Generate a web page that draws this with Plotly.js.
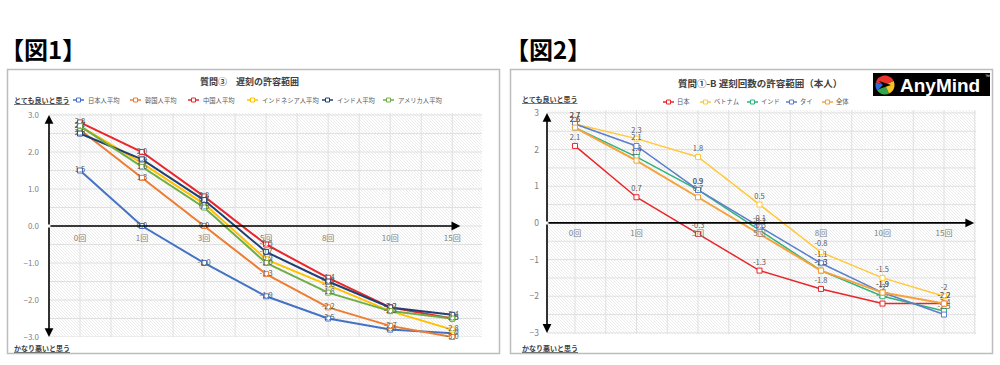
<!DOCTYPE html>
<html><head><meta charset="utf-8">
<script src="https://cdn.plot.ly/plotly-3.0.1.min.js"></script>
<style>html,body{margin:0;padding:0;background:#fff;}#chart{width:1000px;height:365px;}</style>
</head><body><div id="chart"></div>
<script>
// ---------- data ----------
const categories = ['0回','1回','3回','5回','8回','10回','15回'];
const headings = ['【図1】','【図2】'];
const topLabel = 'とても良いと思う';
const bottomLabel = 'かなり悪いと思う';

const fig1Title = '質問③　遅刻の許容範囲';
const fig1Names = ['日本人平均','韓国人平均','中国人平均','インドネシア人平均','インド人平均','アメリカ人平均'];
const fig1Japan     = [1.5, 0.0, -1.0, -1.9, -2.5, -2.8, -2.9];
const fig1Korea     = [2.6, 1.3,  0.0, -1.3, -2.2, -2.7, -3.0];
const fig1China     = [2.8, 2.0,  0.8, -0.5, -1.4, -2.2, -2.5];
const fig1Indonesia = [2.7, 1.7,  0.6, -0.9, -1.6, -2.3, -2.8];
const fig1India     = [2.5, 1.8,  0.7, -0.7, -1.5, -2.2, -2.4];
const fig1USA       = [2.7, 1.6,  0.5, -1.0, -1.8, -2.3, -2.5];
const fig1Ticks = [-3, -2, -1, 0, 1, 2, 3];

const fig2Title = '質問①-B 遅刻回数の許容範囲（本人）';
const fig2Names = ['日本','ベトナム','インド','タイ','全体'];
const fig2Japan   = [2.1, 0.7, -0.3, -1.3, -1.8, -2.2, -2.2];
const fig2Vietnam = [2.7, 2.3,  1.8,  0.5, -0.8, -1.5, -2.0];
const fig2India   = [2.6, 1.8,  0.9, -0.2, -1.3, -2.0, -2.4];
const fig2Thai    = [2.7, 2.1,  0.9, -0.1, -1.1, -1.9, -2.5];
const fig2All     = [2.6, 1.7,  0.7, -0.3, -1.3, -1.9, -2.2];
const fig2Ticks = [-3, -2, -1, 0, 1, 2, 3];

const logoText = 'AnyMind';

// ---------- styles / geometry ----------
const fig1Series = [fig1Japan, fig1Korea, fig1China, fig1Indonesia, fig1India, fig1USA];
const fig2Series = [fig2Japan, fig2Vietnam, fig2India, fig2Thai, fig2All];
const fig1Colors = ['#4472C4','#ED7D31','#E8262B','#FFC000','#203F73','#70AD47'];
const fig2Colors = ['#E8262B','#FFC93C','#2EB37C','#5B7FCB','#F4A23C'];

const W = 1000, H = 365;
const fx = p => p / W;
const fy = p => 1 - p / H;

const g1 = {left:49, right:482, top:113, bottom:337, xr:[-0.5, 6.48], yr:[-3, 3.054], arrowX:6.13,
            box:[7.5, 69.5, 499.5, 353.5], legendX:[73,130,188,247,322,383], legendY:100, textOff:13,
            titleX:249, titleY:82, capX:12, capTopY:100, capBotY:348};
const g2 = {left:547, right:976, top:110, bottom:334, xr:[-0.455, 6.52], yr:[-3.03, 3.08], arrowX:6.49,
            box:[510.5, 69.5, 992.5, 353.5], legendX:[663,700,747,786,822], legendY:102, textOff:12,
            titleX:760, titleY:83, capX:520, capTopY:99, capBotY:348};

function yDomain(g){ return [fy(g.bottom), fy(g.top)]; }
function zeroPos(g){ const d = yDomain(g); return d[0] + (0 - g.yr[0]) / (g.yr[1] - g.yr[0]) * (d[1] - d[0]); }

const traces = [];
fig1Series.forEach((vals, i) => traces.push({
  type:'scatter', mode:'lines+markers+text', x:categories, y:vals, xaxis:'x', yaxis:'y',
  name:fig1Names[i], line:{color:fig1Colors[i], width:2},
  marker:{symbol:'square', size:5, color:'#ffffff', line:{color:fig1Colors[i], width:1}},
  text:vals.map(v => v.toFixed(1)), textposition:'middle center',
  textfont:{size:7.5, color:'#595959'}, cliponaxis:false, hoverinfo:'skip', showlegend:false
}));
fig2Series.forEach((vals, i) => traces.push({
  type:'scatter', mode:'lines+markers+text', x:categories, y:vals, xaxis:'x2', yaxis:'y2',
  name:fig2Names[i], line:{color:fig2Colors[i], width:(i === 4 ? 2 : 1.5)},
  marker:{symbol:'square', size:5, color:'#ffffff', line:{color:fig2Colors[i], width:1}},
  text:vals.map(v => String(v)), textposition:'top center',
  textfont:{size:7.5, color:'#595959'}, cliponaxis:false, hoverinfo:'skip', showlegend:false
}));

const shapes = [];
const annotations = [];

function hatch(g, sp){
  const w = g.right - g.left, h = g.bottom - g.top;
  let d = '';
  for (let c = -h; c <= w; c += sp){
    const x0 = Math.max(c, 0), y0 = Math.max(-c, 0);
    const x1 = Math.min(w, h + c), y1 = Math.min(h, w - c);
    d += 'M' + fx(g.left + x0) + ',' + fy(g.top + y0) + 'L' + fx(g.left + x1) + ',' + fy(g.top + y1);
  }
  shapes.push({type:'path', xref:'paper', yref:'paper', path:d, line:{color:'#ececec', width:1}, layer:'below'});
}
function grid(g, xa, ya){
  for (let k = 0; k / 2 <= g.xr[1]; k++){
    const xv = k / 2;
    shapes.push({type:'line', xref:xa, yref:'paper', x0:xv, x1:xv, y0:fy(g.bottom), y1:fy(g.top),
                 line:{color:'#e0e0e0', width:1}, layer:'below'});
  }
  for (let v = -3; v <= 3.001; v += 0.5){
    shapes.push({type:'line', xref:'paper', yref:ya, x0:fx(g.left), x1:fx(g.right), y0:v, y1:v,
                 line:{color:'#e0e0e0', width:1}, layer:'below'});
  }
}
function arrows(g, xa, ya){
  const base = {xref:xa, yref:ya, axref:xa, ayref:ya, showarrow:true, arrowhead:2, arrowsize:1.1,
                arrowwidth:1.6, arrowcolor:'#000', text:''};
  annotations.push(Object.assign({}, base, {x:g.arrowX, y:0, ax:g.xr[0], ay:0}));
  annotations.push(Object.assign({}, base, {x:g.xr[0], y:3, ax:g.xr[0], ay:0}));
  annotations.push(Object.assign({}, base, {x:g.xr[0], y:-3, ax:g.xr[0], ay:0}));
}
function frame(g, title, names, colors, tsize){
  const b = g.box;
  shapes.push({type:'rect', xref:'paper', yref:'paper', x0:fx(b[0]), x1:fx(b[2]), y0:fy(b[3]), y1:fy(b[1]),
               line:{color:'#bdbdbd', width:1.5}, fillcolor:'rgba(0,0,0,0)', layer:'below'});
  annotations.push({xref:'paper', yref:'paper', x:fx(g.titleX), y:fy(g.titleY), xanchor:'center', yanchor:'middle',
                    text:'<b>' + title + '</b>', showarrow:false, font:{size:tsize, color:'#404040'}});
  annotations.push({xref:'paper', yref:'paper', x:fx(g.capX), y:fy(g.capTopY), xanchor:'left', yanchor:'middle',
                    text:'<b><u>' + topLabel + '</u></b>', showarrow:false, font:{size:7, color:'#404040'}});
  annotations.push({xref:'paper', yref:'paper', x:fx(g.capX), y:fy(g.capBotY), xanchor:'left', yanchor:'middle',
                    text:'<b><u>' + bottomLabel + '</u></b>', showarrow:false, font:{size:7, color:'#404040'}});
  names.forEach((n, i) => {
    const s = g.legendX[i], y = g.legendY;
    shapes.push({type:'line', xref:'paper', yref:'paper', x0:fx(s), x1:fx(s + 11), y0:fy(y), y1:fy(y),
                 line:{color:colors[i], width:1.5}});
    shapes.push({type:'rect', xref:'paper', yref:'paper', x0:fx(s + 3.5), x1:fx(s + 7.5), y0:fy(y + 2), y1:fy(y - 2),
                 line:{color:colors[i], width:1}, fillcolor:'#ffffff'});
    annotations.push({xref:'paper', yref:'paper', x:fx(s + g.textOff), y:fy(y), xanchor:'left', yanchor:'middle',
                      text:n, showarrow:false, font:{size:6.3, color:'#595959'}});
  });
}

hatch(g1, 3); hatch(g2, 3);
grid(g1, 'x', 'y'); grid(g2, 'x2', 'y2');
frame(g1, fig1Title, fig1Names, fig1Colors, 9);
frame(g2, fig2Title, fig2Names, fig2Colors, 9.5);
arrows(g1, 'x', 'y'); arrows(g2, 'x2', 'y2');

// headings
annotations.push({xref:'paper', yref:'paper', x:fx(-2), y:fy(48), xanchor:'left', yanchor:'middle',
                  text:'<b>' + headings[0] + '</b>', showarrow:false, font:{size:24, color:'#000'}});
annotations.push({xref:'paper', yref:'paper', x:fx(503), y:fy(48), xanchor:'left', yanchor:'middle',
                  text:'<b>' + headings[1] + '</b>', showarrow:false, font:{size:24, color:'#000'}});

// logo
shapes.push({type:'rect', xref:'paper', yref:'paper', x0:fx(873), x1:fx(990), y0:fy(96), y1:fy(73),
             fillcolor:'#000', line:{width:0}});
function wedge(cx, cy, r, a0, a1, color){
  let d = 'M' + fx(cx) + ',' + fy(cy);
  for (let k = 0; k <= 14; k++){
    const a = (a0 + (a1 - a0) * k / 14) * Math.PI / 180;
    d += 'L' + fx(cx + r * Math.cos(a)) + ',' + fy(cy - r * Math.sin(a));
  }
  shapes.push({type:'path', xref:'paper', yref:'paper', path:d + 'Z', fillcolor:color, line:{width:0}});
}
wedge(885, 85, 9.5, 25, 165, '#E8342C');
wedge(885, 85, 9.5, 165, 215, '#2F6BD9');
wedge(885, 85, 9.5, 215, 295, '#2EA84A');
wedge(885, 85, 9.5, 295, 385, '#F7C51E');
shapes.push({type:'path', xref:'paper', yref:'paper',
             path:'M'+fx(879)+','+fy(81)+'L'+fx(891)+','+fy(85)+'L'+fx(879)+','+fy(89)+'L'+fx(883)+','+fy(85)+'Z',
             fillcolor:'#000', line:{width:0}});
annotations.push({xref:'paper', yref:'paper', x:fx(940), y:fy(85), xanchor:'center', yanchor:'middle',
                  text:'<b>' + logoText + '</b>', showarrow:false,
                  font:{size:19, color:'#fff', family:'"Liberation Sans", Arial, sans-serif'}});
annotations.push({xref:'paper', yref:'paper', x:fx(987), y:fy(76), xanchor:'center', yanchor:'middle',
                  text:'™', showarrow:false, font:{size:5, color:'#fff', family:'"Liberation Sans", sans-serif'}});

const axisCommon = {showgrid:false, zeroline:false, showline:false, ticks:'', fixedrange:true};
const layout = {
  width:W, height:H, margin:{l:0, r:0, t:0, b:0}, paper_bgcolor:'#fff', plot_bgcolor:'rgba(0,0,0,0)',
  font:{family:'"Noto Sans CJK JP", "Noto Sans", sans-serif', color:'#595959'},
  showlegend:false,
  xaxis:Object.assign({}, axisCommon, {domain:[fx(g1.left), fx(g1.right)], type:'category', categoryorder:'array',
        categoryarray:categories, range:g1.xr, anchor:'free', position:zeroPos(g1), ticklabelstandoff:6,
        tickfont:{size:8, color:'#808080'}}),
  yaxis:Object.assign({}, axisCommon, {domain:yDomain(g1), range:g1.yr, anchor:'x', tickvals:fig1Ticks,
        tickformat:'.1f', ticklabelstandoff:9, tickfont:{size:8, color:'#808080'}}),
  xaxis2:Object.assign({}, axisCommon, {domain:[fx(g2.left), fx(g2.right)], type:'category', categoryorder:'array',
        categoryarray:categories, range:g2.xr, anchor:'free', position:zeroPos(g2), ticklabelstandoff:4,
        tickfont:{size:8, color:'#808080'}}),
  yaxis2:Object.assign({}, axisCommon, {domain:yDomain(g2), range:g2.yr, anchor:'x2', tickvals:fig2Ticks,
        ticklabelstandoff:7, tickfont:{size:8.5, color:'#808080'}}),
  shapes:shapes, annotations:annotations
};
Plotly.newPlot('chart', traces, layout, {staticPlot:true, displayModeBar:false});
</script></body></html>
